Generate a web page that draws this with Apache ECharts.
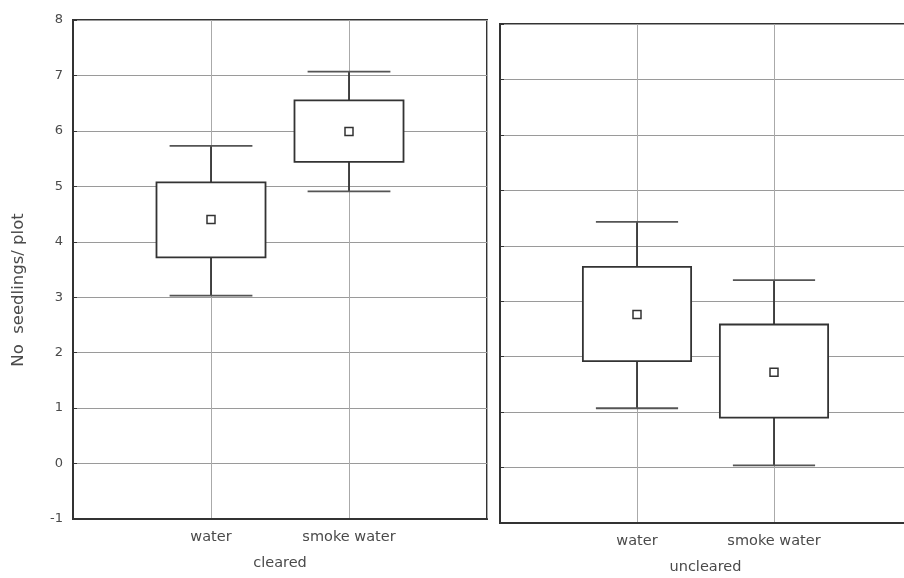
<!DOCTYPE html>
<html>
<head>
<meta charset="utf-8">
<script src="https://cdn.jsdelivr.net/npm/echarts@6/dist/echarts.min.js"></script>
<style>
  html, body { margin: 0; padding: 0; background: #fff; overflow: hidden; }
  #chart { width: 904px; height: 578px; }
</style>
</head>
<body>
<div id="chart"></div>
<script>
// Treatments shown in each panel and the panel (site) names
const categories = ['water', 'smoke water'];
const groups = ['cleared', 'uncleared'];

// Y-axis tick values
const yTicks = [-1, 0, 1, 2, 3, 4, 5, 6, 7, 8];

// Cleared plots: mean, box (±SE) and whiskers, per treatment
const clearedMean = [4.40, 5.99];
const clearedBoxLow = [3.72, 5.44];
const clearedBoxHigh = [5.07, 6.55];
const clearedWhiskerLow = [3.03, 4.91];
const clearedWhiskerHigh = [5.73, 7.07];

// Uncleared plots
const unclearedMean = [2.76, 1.72];
const unclearedBoxLow = [1.92, 0.90];
const unclearedBoxHigh = [3.62, 2.58];
const unclearedWhiskerLow = [1.07, 0.04];
const unclearedWhiskerHigh = [4.43, 3.38];

const BOX_W = 0.79;   // box width in x-axis units
const CAP_W = 0.60;   // whisker cap width in x-axis units
const INK = '#333';
const TEXT = '#4a4a4a';
const FONT = 'DejaVu Sans';

function rows(mean, bl, bh, wl, wh) {
  return categories.map((c, i) => [i + 1, wl[i], bl[i], mean[i], bh[i], wh[i]]);
}

function renderBox(params, api) {
  const x = api.value(0);
  const pWL = api.coord([x, api.value(1)]);
  const pBL = api.coord([x, api.value(2)]);
  const pM = api.coord([x, api.value(3)]);
  const pBH = api.coord([x, api.value(4)]);
  const pWH = api.coord([x, api.value(5)]);
  const hb = api.size([BOX_W, 0])[0] / 2;
  const hc = api.size([CAP_W, 0])[0] / 2;
  const lineStyle = { stroke: INK, lineWidth: 1.8 };
  const capStyle = { stroke: '#555', lineWidth: 1.8 };
  const m = 4;
  return {
    type: 'group',
    children: [
      { type: 'line', shape: { x1: pBH[0], y1: pBH[1], x2: pWH[0], y2: pWH[1] }, style: lineStyle },
      { type: 'line', shape: { x1: pBL[0], y1: pBL[1], x2: pWL[0], y2: pWL[1] }, style: lineStyle },
      { type: 'line', shape: { x1: pWH[0] - hc, y1: pWH[1], x2: pWH[0] + hc, y2: pWH[1] }, style: capStyle },
      { type: 'line', shape: { x1: pWL[0] - hc, y1: pWL[1], x2: pWL[0] + hc, y2: pWL[1] }, style: capStyle },
      { type: 'rect', shape: { x: pBH[0] - hb, y: pBH[1], width: hb * 2, height: pBL[1] - pBH[1] },
        style: { fill: '#fff', stroke: INK, lineWidth: 1.8 } },
      { type: 'rect', shape: { x: pM[0] - m, y: pM[1] - m, width: m * 2, height: m * 2 },
        style: { fill: '#fff', stroke: INK, lineWidth: 1.5 } }
    ]
  };
}

function xAxisFor(gridIndex, name) {
  return {
    type: 'value', gridIndex, min: 0, max: 3, interval: 1,
    name, nameLocation: 'middle', nameGap: 37,
    nameTextStyle: { color: TEXT, fontFamily: FONT, fontSize: 14.5 },
    axisLine: { show: true, onZero: false, lineStyle: { color: INK, width: 2 } },
    axisTick: { show: false },
    axisLabel: {
      color: TEXT, fontFamily: FONT, fontSize: 14.5, margin: 11,
      formatter: v => categories[v - 1] || ''
    },
    splitLine: { show: true, lineStyle: { color: '#aaa', width: 1 } }
  };
}

function yAxisFor(gridIndex, showLabels) {
  return {
    type: 'value', gridIndex, min: yTicks[0], max: yTicks[yTicks.length - 1], interval: 1,
    axisLine: { show: true, onZero: false, lineStyle: { color: INK, width: 2 } },
    axisTick: { show: true, inside: true, length: 4, lineStyle: { color: INK } },
    axisLabel: { show: showLabels, color: TEXT, fontFamily: FONT, fontSize: 13, margin: 10 },
    splitLine: { show: true, lineStyle: { color: '#9a9a9a', width: 1 } }
  };
}

const gridBase = {
  show: true, borderColor: INK, borderWidth: 2, backgroundColor: 'transparent',
  containLabel: false, outerBoundsMode: 'none'
};

const chart = echarts.init(document.getElementById('chart'), null, { renderer: 'canvas' });
chart.setOption({
  backgroundColor: '#fff',
  animation: false,
  grid: [
    Object.assign({ left: 73, top: 20, width: 414, height: 499 }, gridBase),
    Object.assign({ left: 500, top: 24, width: 411, height: 499 }, gridBase)
  ],
  xAxis: [xAxisFor(0, groups[0]), xAxisFor(1, groups[1])],
  yAxis: [yAxisFor(0, true), yAxisFor(1, false)],
  graphic: [{
    type: 'text', x: 19, y: 290, rotation: Math.PI / 2,
    style: {
      text: 'No  seedlings/ plot', fill: TEXT, font: '16.5px "DejaVu Sans"',
      textAlign: 'center', textVerticalAlign: 'middle'
    }
  }],
  series: [
    {
      type: 'custom', xAxisIndex: 0, yAxisIndex: 0, renderItem: renderBox,
      encode: { x: 0, y: [1, 5] },
      data: rows(clearedMean, clearedBoxLow, clearedBoxHigh, clearedWhiskerLow, clearedWhiskerHigh)
    },
    {
      type: 'custom', xAxisIndex: 1, yAxisIndex: 1, renderItem: renderBox,
      encode: { x: 0, y: [1, 5] },
      data: rows(unclearedMean, unclearedBoxLow, unclearedBoxHigh, unclearedWhiskerLow, unclearedWhiskerHigh)
    }
  ]
});
</script>
</body>
</html>
